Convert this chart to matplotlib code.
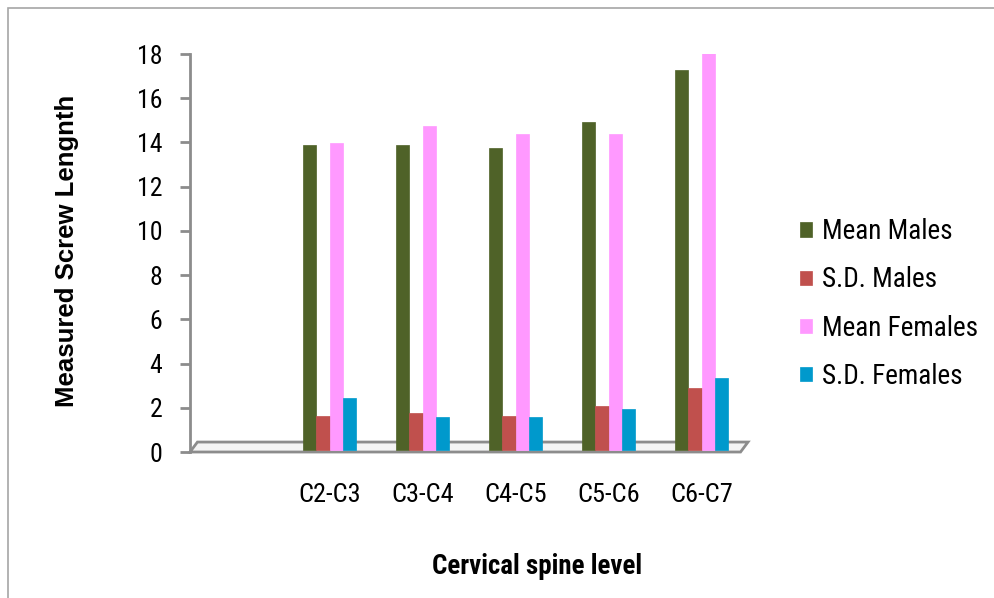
import matplotlib
matplotlib.use("Agg")
import matplotlib.pyplot as plt
from matplotlib.patches import Polygon, Rectangle
from matplotlib import font_manager
import numpy as np

categories = ['', 'C2-C3', 'C3-C4', 'C4-C5', 'C5-C6', 'C6-C7']
mean_males = [np.nan, 13.77, 13.80, 13.66, 14.83, 17.16]
sd_males = [np.nan, 1.55, 1.66, 1.52, 1.96, 2.80]
mean_females = [np.nan, 13.88, 14.63, 14.30, 14.28, 18.00]
sd_females = [np.nan, 2.35, 1.50, 1.50, 1.86, 3.26]

series = [
    ('Mean Males', mean_males, '#4F6228'),
    ('S.D. Males', sd_males, '#C0504D'),
    ('Mean Females', mean_females, '#FF99FF'),
    ('S.D. Females', sd_females, '#0099CC'),
]

# look for a condensed face like Arial Narrow
narrow, stretch = 'DejaVu Sans', 'normal'
for f in font_manager.fontManager.ttflist:
    if f.name in ('Liberation Sans Narrow', 'Roboto Condensed', 'Open Sans Condensed'):
        narrow, stretch = f.name, 'normal'
        break
else:
    for f in font_manager.fontManager.ttflist:
        if f.name == 'DejaVu Sans' and 'ondensed' in f.fname:
            narrow, stretch = 'DejaVu Sans', 'condensed'
            break

W, H = 994, 598
fig = plt.figure(figsize=(W / 100, H / 100), dpi=100)

# outer chart border
fig.patches.append(Rectangle((8 / W, -0.05), 1.1, 1 - 8 / H + 0.05, transform=fig.transFigure,
                             fill=False, edgecolor='#a6a6a6', linewidth=1.2))

ax = fig.add_axes([190 / W, 1 - 452 / H, (748 - 190) / W, (452 - 54) / H])
ax.set_xlim(-0.5, 5.5)
ax.set_ylim(0, 18)

# floor
floor = Polygon([(-0.5, 0), (5.42, 0), (5.5, 0.45), (-0.42, 0.45)], closed=True,
                facecolor='#f4f4f4', edgecolor='#8c8c8c', linewidth=2, zorder=1, clip_on=False)
ax.add_patch(floor)

x = np.arange(len(categories))
bw = 0.14
for i, (label, vals, col) in enumerate(series):
    ax.bar(x + (i - 1.5) * bw, vals, bw, bottom=0.1, color=col, label=label, zorder=3,
           edgecolor=col, linewidth=0.5)

for s in ['top', 'right', 'bottom']:
    ax.spines[s].set_visible(False)
ax.spines['left'].set_color('#8c8c8c')
ax.spines['left'].set_linewidth(2)

fnt = {'family': narrow, 'stretch': stretch}

ax.set_yticks(range(0, 19, 2))
ax.tick_params(axis='y', length=7, width=2, color='#8c8c8c', pad=13, labelsize=18.5)
ax.set_xticks(x)
ax.set_xticklabels(categories)
ax.tick_params(axis='x', length=0, pad=22, labelsize=19)
for t in ax.get_xticklabels() + ax.get_yticklabels():
    t.set_fontfamily(narrow)
    t.set_fontstretch(stretch)

fig.text(67 / W, 1 - 251 / H, 'Measured Screw Lengnth', rotation=90, ha='center', va='center',
         fontsize=18.5, fontweight='bold', family='Liberation Sans')
fig.text(537 / W, 1 - 567 / H, 'Cervical spine level', ha='center', va='center',
         fontsize=19.4, fontweight='bold', **fnt)

leg = ax.legend(loc='center left', bbox_to_anchor=(776 / W, 1 - 304 / H),
                bbox_transform=fig.transFigure, frameon=False,
                prop={'family': narrow, 'stretch': stretch, 'size': 19.5},
                labelspacing=0.78, handlelength=0.44, handleheight=0.44, handletextpad=0.37)

fig.savefig('out.png', dpi=100)
